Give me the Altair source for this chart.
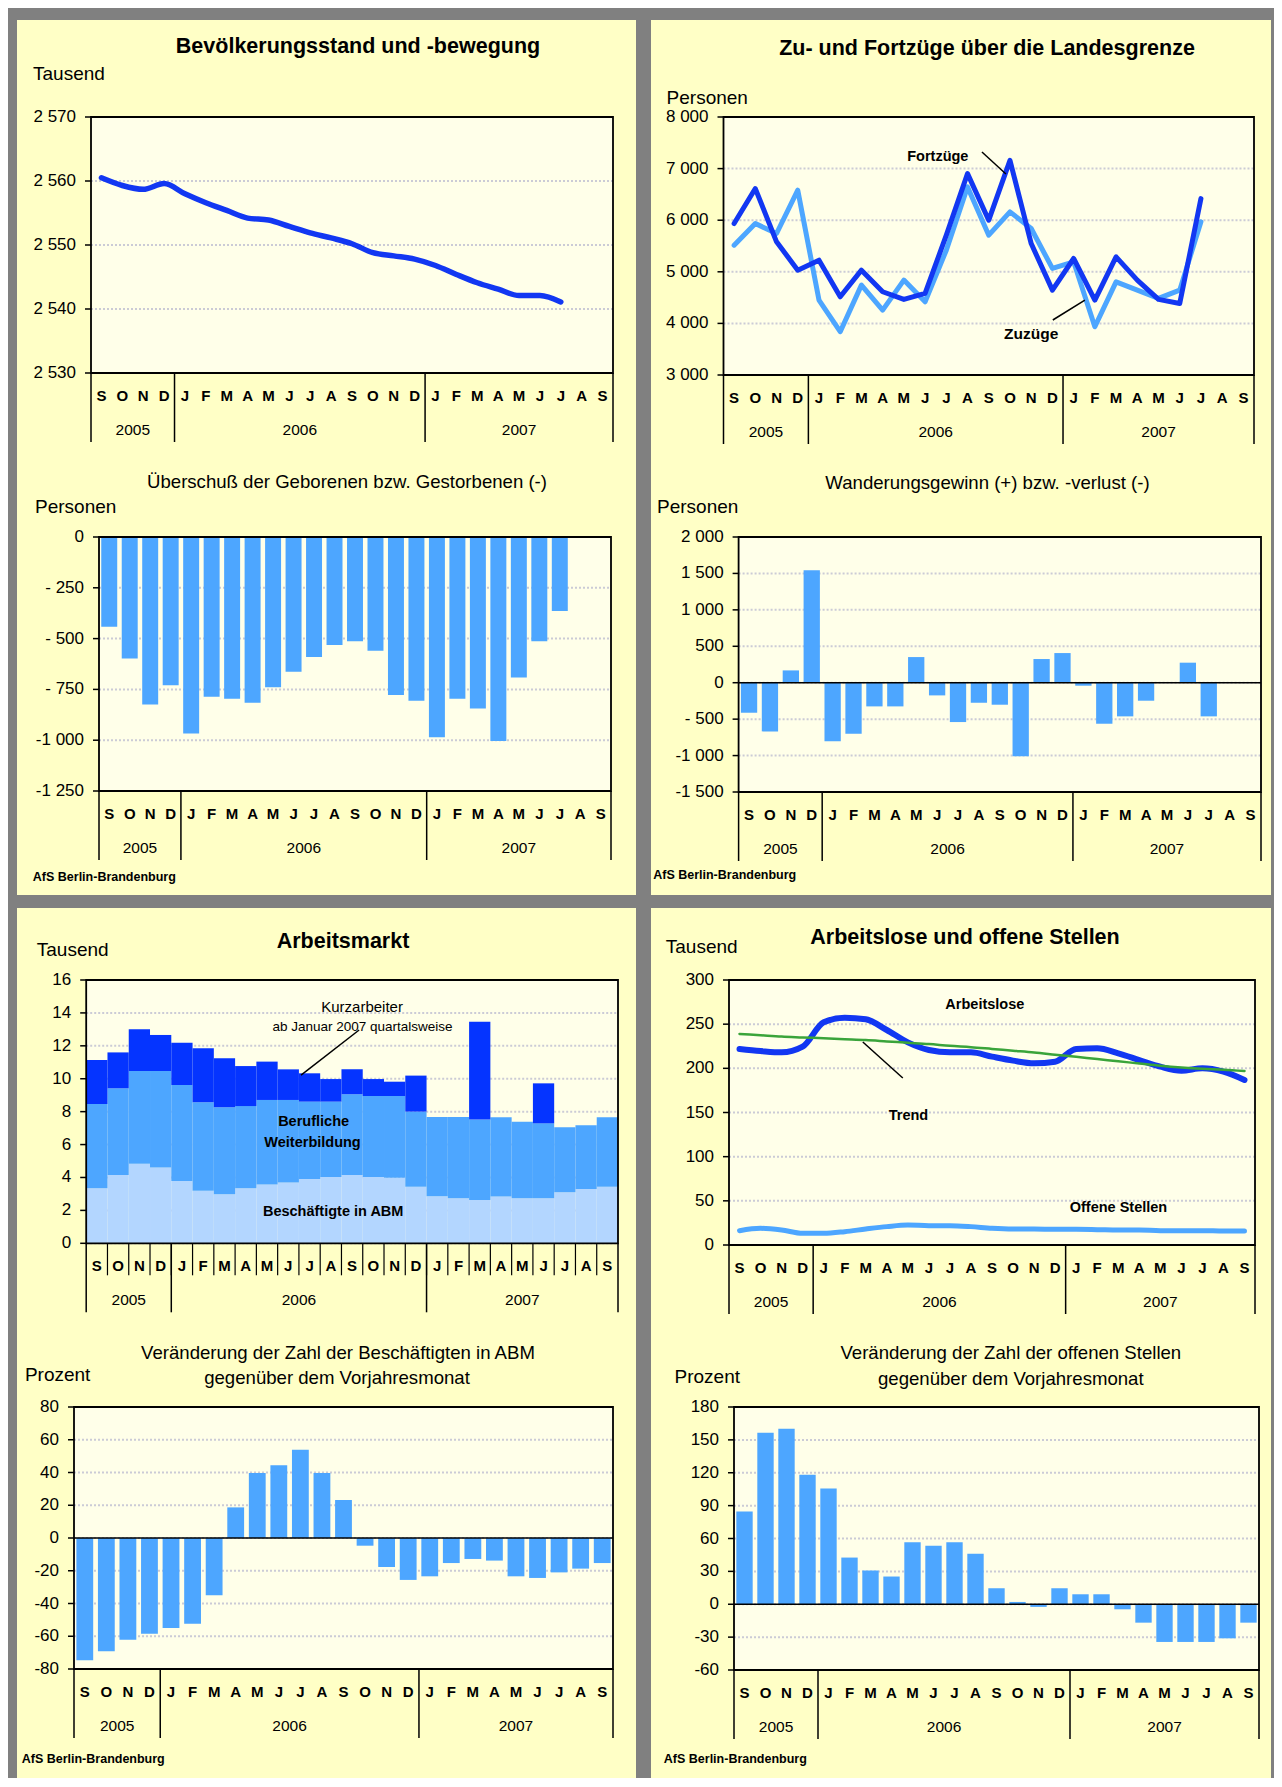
import altair as alt
import pandas as pd

FONT = "Liberation Sans"
GRAY = "#808080"
YELLOW = "#FFFFC6"
CREAM = "#FFFFE9"
DARK = "#1237F2"
LIGHT = "#4DA6FF"
PALE = "#B3D6FF"
DEEP = "#0534FF"
GREEN = "#3AA43A"
GRID = "#cbcbd6"

MONTHS = ["S", "O", "N", "D", "J", "F", "M", "A", "M", "J", "J", "A", "S",
          "O", "N", "D", "J", "F", "M", "A", "M", "J", "J", "A", "S"]
YEARS = ["2005", "2006", "2007"]

POPULATION = [2560.5, 2559.3, 2558.7, 2559.6, 2558.0, 2556.6, 2555.4, 2554.2,
              2553.9, 2552.9, 2551.9, 2551.1, 2550.2, 2548.8, 2548.3, 2547.8,
              2546.8, 2545.4, 2544.1, 2543.1, 2542.1, 2542.1, 2541.1]

FORTZUEGE = [5935, 6613, 5581, 5032, 5226, 4516, 5032, 4613, 4465, 4581, 5710,
             6903, 6000, 7161, 5548, 4645, 5258, 4452, 5290, 4839, 4465, 4387, 6419]
ZUZUEGE = [5516, 5935, 5742, 6581, 4452, 3839, 4742, 4258, 4839, 4419, 5419,
           6645, 5710, 6161, 5839, 5065, 5194, 3935, 4806, 4645, 4484, 4645, 5968]

NATURAL = [-442, -598, -824, -729, -967, -786, -796, -816, -740, -663, -590,
           -532, -513, -560, -778, -806, -986, -796, -844, -1004, -691, -513, -364]

MIGRATION = [-412, -668, 169, 1542, -805, -700, -325, -325, 352, -174, -540,
             -275, -302, -1011, 325, 407, -41, -563, -462, -247, None, 275, -462]

STACK_NAMES = ["Beschäftigte in ABM", "Berufliche Weiterbildung", "Kurzarbeiter"]
ABM = [3.34, 4.15, 4.84, 4.60, 3.79, 3.20, 2.98, 3.34, 3.58, 3.69, 3.91, 4.03,
       4.15, 4.03, 3.99, 3.44, 2.86, 2.73, 2.63, 2.84, 2.73, 2.73, 3.10, 3.30, 3.44]
WEITERBILDUNG = [5.13, 5.27, 5.63, 5.87, 5.83, 5.37, 5.28, 5.00, 5.13, 5.02, 4.70,
                 4.58, 4.90, 4.92, 4.96, 4.56, 4.82, 4.95, 4.90, 4.82, 4.66, 4.56,
                 3.95, 3.87, 4.22]
KURZARBEIT = [2.67, 2.18, 2.53, 2.19, 2.57, 3.28, 2.98, 2.43, 2.33, 1.86, 1.72,
              1.37, 1.52, 1.03, 0.87, 2.19, 0, 0, 5.94, 0, 0, 2.43, 0, 0, 0]

ARBEITSLOSE = [221.9, 219.6, 218.1, 224.5, 252.1, 257.4, 255.5, 243.4, 229.4,
               220.8, 218.1, 218.1, 213.2, 208.7, 205.7, 207.5, 221.9, 222.6,
               217.0, 209.4, 201.9, 197.4, 200.0, 196.2, 186.8]
TREND = [239, 237.5, 236, 235, 234, 233, 232, 230.5, 229, 227.5, 225.5, 224,
         222, 220, 218, 215.5, 213, 210.5, 208, 205.5, 203, 201, 199.5, 198.5, 197]
OFFENE = [16.2, 18.9, 17.0, 13.2, 13.2, 15.1, 18.1, 20.8, 22.6, 21.9, 21.9, 20.8,
          18.9, 18.1, 18.1, 17.7, 17.7, 17.4, 17.0, 17.0, 16.2, 16.2, 16.2, 15.8, 15.8]

ABM_CHANGE = [-74.7, -69.2, -62.1, -58.4, -55.0, -52.3, -35.0, 18.7, 39.7, 44.4,
              53.9, 39.7, 23.2, -4.7, -17.7, -25.6, -23.4, -15.3, -12.8, -13.8,
              -23.4, -24.4, -21.0, -18.7, -15.3]
STELLEN_CHANGE = [84.7, 156.5, 160.2, 118.2, 105.7, 42.6, 30.8, 25.3, 56.6, 53.3,
                  56.6, 46.0, 14.6, 2.1, -2.4, 14.6, 9.1, 9.1, -4.6, -16.8, -34.4,
                  -34.4, -34.4, -31.1, -16.8]

# grid cells (page coordinates of cell origins)
COLS = [86, 731]
ROWS = [117, 547, 977, 1407]
CELL_W, CELL_H = 530, 260

ONE = pd.DataFrame({"k": [0]})


def series(values):
    return pd.DataFrame({"i": list(range(len(values))), "v": values})


def month_table():
    return pd.DataFrame({"i": list(range(len(MONTHS))), "m": MONTHS})


def year_table():
    starts = [0] + [i for i in range(1, len(MONTHS))
                    if MONTHS[i] == "J" and MONTHS[i - 1] == "D"]
    ends = starts[1:] + [len(MONTHS)]
    return pd.DataFrame({"year": YEARS, "s": starts, "e": ends})


def fmt(v, spaced):
    mag = f"{abs(v):,}".replace(",", " ")
    if v < 0:
        return ("- " if (spaced and abs(v) < 1000) else "-") + mag
    return mag


def vrect(x0, x1, y0, y1, color):
    return alt.Chart(ONE).mark_rect(color=color).encode(
        x=alt.value(x0), x2=alt.value(x1), y=alt.value(y0), y2=alt.value(y1))


def text_at(txt, x, y, size, weight="normal", align="center"):
    return alt.Chart(ONE).mark_text(
        text=txt, font=FONT, fontSize=size, fontWeight=weight, align=align,
        baseline="middle", color="black").encode(x=alt.value(x), y=alt.value(y))


def note(txt, xd, yd, xs, ys, size=14.5, weight="bold"):
    return alt.Chart(pd.DataFrame({"x": [xd], "y": [yd]})).mark_text(
        text=txt, font=FONT, fontSize=size, fontWeight=weight, align="center",
        baseline="middle", color="black").encode(
        x=alt.X("x:Q", scale=xs, axis=None), y=alt.Y("y:Q", scale=ys, axis=None))


def pointer(xa, ya, xb, yb, xs, ys):
    return alt.Chart(pd.DataFrame({"xa": [xa], "ya": [ya], "xb": [xb], "yb": [yb]})).mark_rule(
        color="black", strokeWidth=1.5).encode(
        x=alt.X("xa:Q", scale=xs, axis=None), y=alt.Y("ya:Q", scale=ys, axis=None),
        x2="xb:Q", y2="yb:Q")


def line(values, xs, ys, color, width, interp="linear"):
    return alt.Chart(series(values)).transform_calculate(c="datum.i + 0.5").mark_line(
        color=color, strokeWidth=width, interpolate=interp, strokeCap="round",
        strokeJoin="round").encode(
        x=alt.X("c:Q", scale=xs, axis=None), y=alt.Y("v:Q", scale=ys, axis=None))


def bars(values, xs, ys):
    return alt.Chart(series(values)).transform_calculate(
        x0="datum.i + 0.11", x1="datum.i + 0.89").mark_bar(color=LIGHT).encode(
        x=alt.X("x0:Q", scale=xs, axis=None), x2="x1:Q",
        y=alt.Y("v:Q", scale=ys, axis=None), y2=alt.datum(0))


def stacked(xs, ys):
    rows = []
    for k, (name, vals) in enumerate(zip(STACK_NAMES, [ABM, WEITERBILDUNG, KURZARBEIT])):
        for i, v in enumerate(vals):
            rows.append({"i": i, "v": v, "s": name, "k": k})
    return alt.Chart(pd.DataFrame(rows)).transform_stack(
        as_=["y0", "y1"], stack="v", groupby=["i"],
        sort=[alt.SortField(field="k", order="ascending")]
    ).transform_calculate(x0="datum.i", x1="datum.i + 1").mark_bar().encode(
        x=alt.X("x0:Q", scale=xs, axis=None), x2="x1:Q",
        y=alt.Y("y1:Q", scale=ys, axis=None), y2="y0:Q",
        color=alt.Color("s:N", scale=alt.Scale(domain=STACK_NAMES, range=[PALE, LIGHT, DEEP]),
                        legend=None))


def panel(cell, plot, ydomain, yticks, spaced, layers_fn, texts, box=None, zero=False,
          month_seps=False):
    cx, cy = cell
    px0, px1, py0, py1 = plot[0] - cx, plot[1] - cx, plot[2] - cy, plot[3] - cy
    xs = alt.Scale(domain=[0, len(MONTHS)], range=[px0, px1], nice=False, zero=False)
    ys = alt.Scale(domain=ydomain, range=[py1, py0], nice=False, zero=False)
    ticks = pd.DataFrame({"t": yticks, "lab": [fmt(t, spaced) for t in yticks]})
    L = []
    if box:
        L.append(vrect(box[0] - cx, box[1] - cx, box[2] - cy, box[3] - cy, YELLOW))
    L.append(vrect(px0, px1, py0, py1, CREAM))
    L.append(alt.Chart(ticks).mark_rule(color=GRID, strokeWidth=2, strokeDash=[2, 2]).encode(
        y=alt.Y("t:Q", scale=ys, axis=None), x=alt.value(px0), x2=alt.value(px1)))
    L += layers_fn(xs, ys)
    if zero:
        L.append(alt.Chart(pd.DataFrame({"z": [0]})).mark_rule(
            color="black", strokeWidth=1.5).encode(
            y=alt.Y("z:Q", scale=ys, axis=None), x=alt.value(px0), x2=alt.value(px1)))
    L.append(alt.Chart(ONE).mark_rect(filled=False, color="black", strokeWidth=1.8).encode(
        x=alt.value(px0), x2=alt.value(px1), y=alt.value(py0), y2=alt.value(py1)))
    # y ticks and labels
    L.append(alt.Chart(ticks).mark_rule(color="black", strokeWidth=1.5).encode(
        y=alt.Y("t:Q", scale=ys, axis=None), x=alt.value(px0 - 6), x2=alt.value(px0)))
    L.append(alt.Chart(ticks).mark_text(
        font=FONT, fontSize=17, align="right", baseline="middle", color="black").encode(
        y=alt.Y("t:Q", scale=ys, axis=None), x=alt.value(px0 - 15), text="lab:N"))
    # month / year axis
    yt = year_table()
    bounds = list(yt["s"]) + [len(MONTHS)]
    L.append(alt.Chart(pd.DataFrame({"b": bounds})).mark_rule(
        color="black", strokeWidth=1.5).encode(
        x=alt.X("b:Q", scale=xs, axis=None), y=alt.value(py1), y2=alt.value(py1 + 69)))
    if month_seps:
        L.append(alt.Chart(pd.DataFrame({"b": list(range(1, len(MONTHS)))})).mark_rule(
            color="black", strokeWidth=1.2).encode(
            x=alt.X("b:Q", scale=xs, axis=None), y=alt.value(py1), y2=alt.value(py1 + 32)))
    L.append(alt.Chart(month_table()).transform_calculate(c="datum.i + 0.5").mark_text(
        font=FONT, fontSize=15, fontWeight="bold", baseline="middle", color="black").encode(
        x=alt.X("c:Q", scale=xs, axis=None), y=alt.value(py1 + 23), text="m:N"))
    L.append(alt.Chart(yt).transform_calculate(c="(datum.s + datum.e) / 2").mark_text(
        font=FONT, fontSize=15.5, baseline="middle", color="black").encode(
        x=alt.X("c:Q", scale=xs, axis=None), y=alt.value(py1 + 57), text="year:N"))
    for t in texts:
        txt, x, y = t[0], t[1] - cx, t[2] - cy
        L.append(text_at(txt, x, y, *t[3:]))
    return alt.layer(*L).properties(width=CELL_W, height=CELL_H)


AFS = "AfS Berlin-Brandenburg"
TS = 21.5   # main titles
SS = 18.6   # sub titles
US = 19     # unit labels

BOX_TL = (17, 636, 20, 895)
BOX_TR = (651, 1271, 20, 895)
BOX_BL = (17, 636, 908, 1778)
BOX_BR = (651, 1271, 908, 1778)

c1 = panel((COLS[0], ROWS[0]), (91, 613, 117, 373), [2530, 2570],
           [2530, 2540, 2550, 2560, 2570], False,
           lambda xs, ys: [line(POPULATION, xs, ys, DARK, 5.5, "monotone")],
           [("Bevölkerungsstand und -bewegung", 358, 47, TS, "bold"),
            ("Tausend", 33, 74.3, US, "normal", "left")],
           box=BOX_TL)

c2 = panel((COLS[1], ROWS[0]), (723.5, 1254, 117, 375), [3000, 8000],
           [3000, 4000, 5000, 6000, 7000, 8000], False,
           lambda xs, ys: [line(ZUZUEGE, xs, ys, LIGHT, 5), line(FORTZUEGE, xs, ys, DARK, 5),
                           note("Fortzüge", 10.1, 7225, xs, ys),
                           pointer(12.18, 7322, 13.31, 6895, xs, ys),
                           note("Zuzüge", 14.5, 3795, xs, ys, 15.5),
                           pointer(15.52, 4066, 17.03, 4453, xs, ys)],
           [("Zu- und Fortzüge über die Landesgrenze", 987, 48.7, TS, "bold"),
            ("Personen", 666.6, 97.7, US, "normal", "left")],
           box=BOX_TR)

c3 = panel((COLS[0], ROWS[1]), (99, 611, 537, 791), [-1250, 0],
           [-1250, -1000, -750, -500, -250, 0], True,
           lambda xs, ys: [bars(NATURAL, xs, ys)],
           [("Überschuß der Geborenen bzw. Gestorbenen (-)", 347, 481.7, SS),
            ("Personen", 35, 506.7, US, "normal", "left"),
            (AFS, 32.8, 876.7, 12.5, "bold", "left")])

c4 = panel((COLS[1], ROWS[1]), (738.6, 1261, 537, 792), [-1500, 2000],
           [-1500, -1000, -500, 0, 500, 1000, 1500, 2000], True,
           lambda xs, ys: [bars(MIGRATION, xs, ys)],
           [("Wanderungsgewinn (+) bzw. -verlust (-)", 987.5, 483.3, SS),
            ("Personen", 657, 506.7, US, "normal", "left"),
            (AFS, 653.2, 875, 12.5, "bold", "left")],
           zero=True)

c5 = panel((COLS[0], ROWS[2]), (86.2, 618, 980, 1243.3), [0, 16],
           [0, 2, 4, 6, 8, 10, 12, 14, 16], False,
           lambda xs, ys: [stacked(xs, ys),
                           note("Kurzarbeiter", 12.97, 14.37, xs, ys, 15, "normal"),
                           note("ab Januar 2007 quartalsweise", 12.99, 13.16, xs, ys, 13.5, "normal"),
                           pointer(12.83, 12.96, 10.1, 10.22, xs, ys),
                           note("Berufliche", 10.69, 7.39, xs, ys),
                           note("Weiterbildung", 10.64, 6.08, xs, ys),
                           note("Beschäftigte in ABM", 11.61, 1.92, xs, ys)],
           [("Arbeitsmarkt", 343, 941.7, TS, "bold"),
            ("Tausend", 36.8, 950, US, "normal", "left")],
           box=BOX_BL, month_seps=True)

c6 = panel((COLS[1], ROWS[2]), (729, 1255, 980, 1245), [0, 300],
           [0, 50, 100, 150, 200, 250, 300], False,
           lambda xs, ys: [line(OFFENE, xs, ys, LIGHT, 5, "monotone"),
                           line(ARBEITSLOSE, xs, ys, DARK, 6, "monotone"),
                           line(TREND, xs, ys, GREEN, 2.5, "monotone"),
                           note("Arbeitslose", 12.16, 271.7, xs, ys),
                           note("Trend", 8.53, 146, xs, ys),
                           pointer(6.36, 229.8, 8.26, 189, xs, ys),
                           note("Offene Stellen", 18.51, 42, xs, ys)],
           [("Arbeitslose und offene Stellen", 965, 938.3, TS, "bold"),
            ("Tausend", 665.8, 946.7, US, "normal", "left")],
           box=BOX_BR)

c7 = panel((COLS[0], ROWS[3]), (74, 613, 1407, 1669), [-80, 80],
           [-80, -60, -40, -20, 0, 20, 40, 60, 80], False,
           lambda xs, ys: [bars(ABM_CHANGE, xs, ys)],
           [("Veränderung der Zahl der Beschäftigten in ABM", 338, 1353.3, SS),
            ("gegenüber dem Vorjahresmonat", 337, 1378.3, SS),
            ("Prozent", 24.9, 1375, US, "normal", "left"),
            (AFS, 21.7, 1759.3, 12.5, "bold", "left")],
           zero=True)

c8 = panel((COLS[1], ROWS[3]), (734, 1259, 1407, 1670), [-60, 180],
           [-60, -30, 0, 30, 60, 90, 120, 150, 180], False,
           lambda xs, ys: [bars(STELLEN_CHANGE, xs, ys)],
           [("Veränderung der Zahl der offenen Stellen", 1010.8, 1353.3, SS),
            ("gegenüber dem Vorjahresmonat", 1010.8, 1379.3, SS),
            ("Prozent", 674.5, 1376.7, US, "normal", "left"),
            (AFS, 663.8, 1759.3, 12.5, "bold", "left")],
           zero=True)

chart = alt.concat(
    c1, c2, c3, c4, c5, c6, c7, c8, columns=2,
    spacing={"row": ROWS[1] - ROWS[0] - CELL_H, "column": COLS[1] - COLS[0] - CELL_W},
    bounds="flush",
).properties(
    padding={"left": 9, "top": 12, "right": 3, "bottom": 0}
).configure(background=GRAY).configure_view(strokeWidth=0)

chart.save("out.html", embed_options={"renderer": "svg", "actions": False})
